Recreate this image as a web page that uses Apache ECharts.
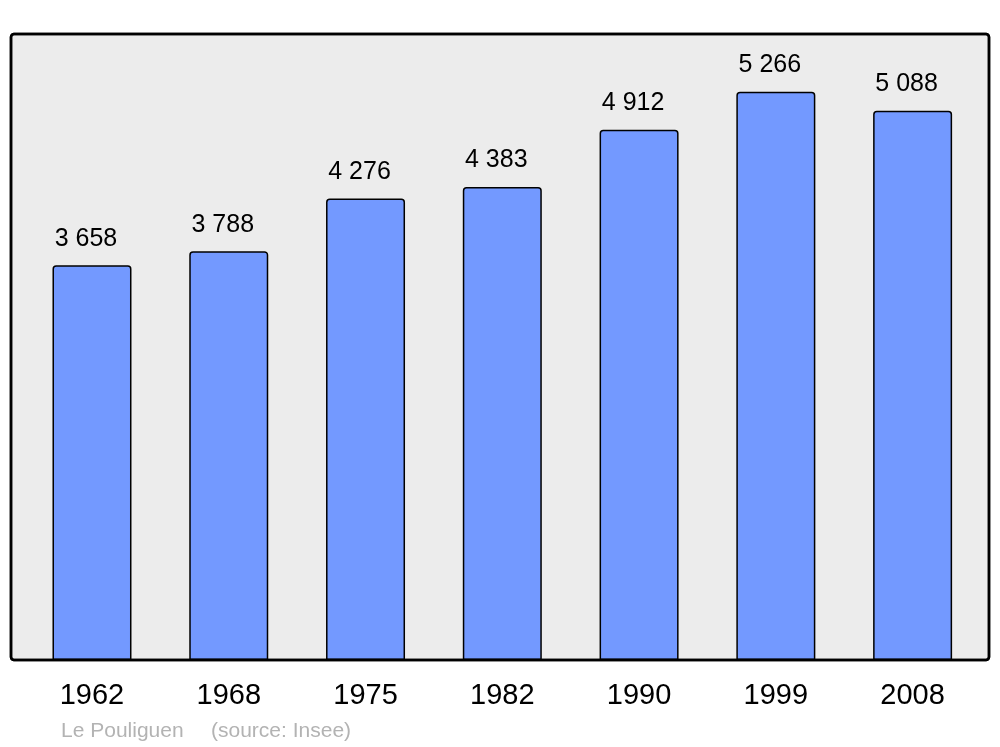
<!DOCTYPE html>
<html><head><meta charset="utf-8">
<script src="https://cdn.jsdelivr.net/npm/echarts@6/dist/echarts.min.js"></script>
<style>html,body{margin:0;padding:0;background:#fff}#c{width:1000px;height:747px}</style>
</head><body><div id="c"></div>
<script>
const years = ['1962','1968','1975','1982','1990','1999','2008'];
const population = [3658, 3788, 4276, 4383, 4912, 5266, 5088];
const place = 'Le Pouliguen';
const source = '(source: Insee)';

const fmt = v => String(v).replace(/\B(?=(\d{3})+(?!\d))/g, ' ');
const chart = echarts.init(document.getElementById('c'));
chart.setOption({
  animation: false,
  backgroundColor: '#ffffff',
  textStyle: { fontFamily: 'Liberation Sans, Arial, sans-serif' },
  grid: { left: 23.6, right: 19, top: 34, bottom: 87 },
  graphic: [
    { type: 'rect', z: -10, shape: { x: 11, y: 34, width: 978, height: 626, r: 3 },
      style: { fill: '#ececec', stroke: '#000', lineWidth: 2.5 } },
    { type: 'rect', z: 100, shape: { x: 11, y: 34, width: 978, height: 626, r: 3 },
      style: { fill: 'none', stroke: '#000', lineWidth: 2.5 } },
    { type: 'text', left: 61, top: 721, style: { text: place, fill: '#b3b3b3', fontSize: 21, fontFamily: 'Liberation Sans' } },
    { type: 'text', left: 211, top: 721, style: { text: source, fill: '#b3b3b3', fontSize: 21, fontFamily: 'Liberation Sans' } }
  ],
  xAxis: {
    type: 'category', data: years,
    axisLine: { show: false }, axisTick: { show: false },
    axisLabel: { fontSize: 29, color: '#000', margin: 21, fontFamily: 'Liberation Sans' }
  },
  yAxis: {
    type: 'value', min: 0, max: 5800,
    show: false, splitLine: { show: false }
  },
  series: [{
    type: 'bar', data: population, barWidth: 79,
    itemStyle: { color: '#7399ff', borderColor: '#000', borderWidth: 1.5, borderRadius: [3, 3, 0, 0] },
    label: { show: true, position: 'top', distance: 14, offset: [-6, 0], fontSize: 25, color: '#000',
      fontFamily: 'Liberation Sans', formatter: p => fmt(p.value) }
  }]
});
</script></body></html>
